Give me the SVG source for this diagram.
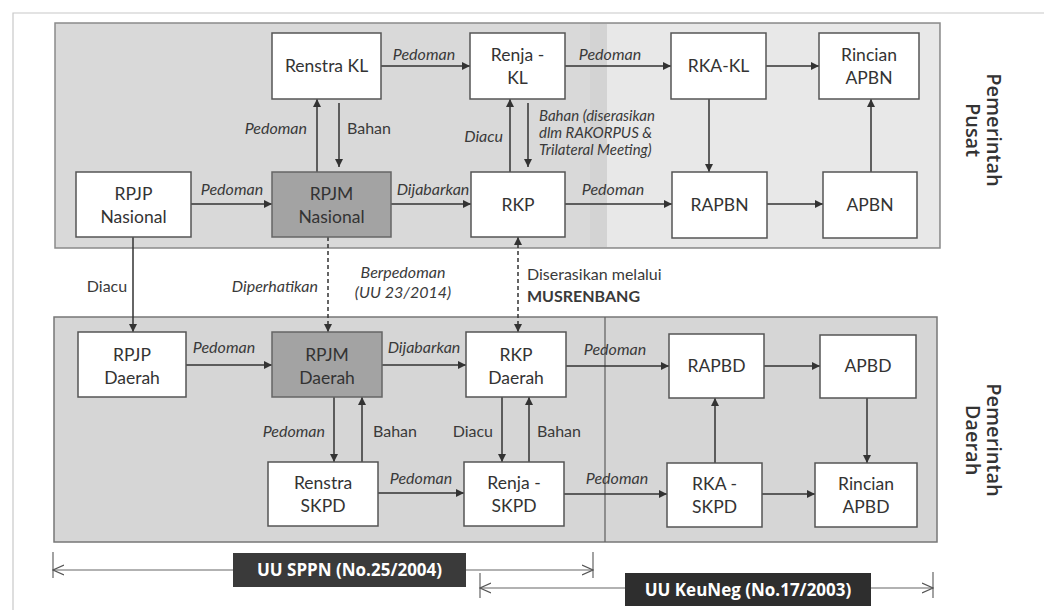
<svg xmlns="http://www.w3.org/2000/svg" width="1044" height="610" viewBox="0 0 1044 610">
<defs>
<marker id="ah" viewBox="0 0 10 10" refX="10" refY="5" markerWidth="9" markerHeight="8" markerUnits="userSpaceOnUse" orient="auto-start-reverse">
<path d="M0,0 L10,5 L0,10 z" fill="#333"/>
</marker>
<marker id="open" viewBox="0 0 12 12" refX="11" refY="6" markerWidth="12" markerHeight="12" markerUnits="userSpaceOnUse" orient="auto-start-reverse">
<path d="M0,1 L11,6 L0,11" fill="none" stroke="#555" stroke-width="1.2"/>
</marker>
<style>
.node rect{fill:#fff;stroke:#555;stroke-width:1.5}
.node.dark rect{fill:#a3a3a3;stroke:#666}
.nt{font-family:Lato,"Open Sans","Liberation Sans",sans-serif;font-size:17.5px;fill:#333;text-anchor:middle}
.lbl{font-family:Lato,"Open Sans","Liberation Sans",sans-serif;font-size:16px;fill:#3a3a3a}
.sm{font-size:15px}
.it{font-style:italic}
.c{stroke:#333;stroke-width:1.5;fill:none}
.d{stroke:#333;stroke-width:1.5;fill:none;stroke-dasharray:4 3}
.side{font-family:"Open Sans","Noto Sans",sans-serif;font-size:20px;font-weight:600;fill:#333;text-anchor:middle}
.leg{font-family:"Open Sans","Noto Sans",sans-serif;font-size:17px;font-weight:bold;fill:#fff;text-anchor:middle}
.ll{stroke:#666;stroke-width:1.2;fill:none}
</style>
</defs>
<rect width="1044" height="610" fill="#fff"/>
<path d="M13,610 V13 H1044" fill="none" stroke="#c8c8c8" stroke-width="1.2"/>

<g id="panel-pusat">
<rect x="55" y="23" width="885" height="225" fill="#d9d9d9" stroke="#8a8a8a" stroke-width="1.5"/>
<rect x="590" y="24" width="18" height="223" fill="#d3d3d3"/>
<rect x="607" y="24" width="332" height="223" fill="#e8e8e8"/>
</g>
<g id="panel-daerah">
<rect x="54" y="317" width="883" height="225" fill="#d6d6d6" stroke="#777" stroke-width="1.5"/>
<line x1="605" y1="317" x2="605" y2="542" stroke="#666" stroke-width="1.3"/>
</g>

<g id="connectors">
<path class="c" d="M381,66 H470" marker-end="url(#ah)"/>
<path class="c" d="M565,66 H671" marker-end="url(#ah)"/>
<path class="c" d="M766,66 H819" marker-end="url(#ah)"/>
<path class="c" d="M709,99 V172" marker-end="url(#ah)"/>
<path class="c" d="M871,172 V99" marker-end="url(#ah)"/>
<path class="c" d="M191,204 H272" marker-end="url(#ah)"/>
<path class="c" d="M391,204 H471" marker-end="url(#ah)"/>
<path class="c" d="M565,204 H672" marker-end="url(#ah)"/>
<path class="c" d="M767,204 H823" marker-end="url(#ah)"/>
<path class="c" d="M317,172 V99" marker-end="url(#ah)"/>
<path class="c" d="M339,103 V167" marker-end="url(#ah)"/>
<path class="c" d="M510,172 V99" marker-end="url(#ah)"/>
<path class="c" d="M528,103 V167" marker-end="url(#ah)"/>
<path class="c" d="M133,237 V332" marker-end="url(#ah)"/>
<path class="d" d="M328,237 V332" marker-end="url(#ah)"/>
<path class="d" d="M518,237 V332" marker-start="url(#ah)" marker-end="url(#ah)"/>
<path class="c" d="M186,365 H272" marker-end="url(#ah)"/>
<path class="c" d="M382,365 H466" marker-end="url(#ah)"/>
<path class="c" d="M566,366 H669" marker-end="url(#ah)"/>
<path class="c" d="M764,366 H820" marker-end="url(#ah)"/>
<path class="c" d="M867,398 V463" marker-end="url(#ah)"/>
<path class="c" d="M715,463 V398" marker-end="url(#ah)"/>
<path class="c" d="M334,397 V462" marker-end="url(#ah)"/>
<path class="c" d="M362,462 V397" marker-end="url(#ah)"/>
<path class="c" d="M502,397 V462" marker-end="url(#ah)"/>
<path class="c" d="M529,462 V397" marker-end="url(#ah)"/>
<path class="c" d="M378,493 H464" marker-end="url(#ah)"/>
<path class="c" d="M564,494 H667" marker-end="url(#ah)"/>
<path class="c" d="M762,494 H815" marker-end="url(#ah)"/>
</g>

<g id="edge-labels">
<text class="lbl it" x="424" y="60" text-anchor="middle">Pedoman</text>
<text class="lbl it" x="610" y="60" text-anchor="middle">Pedoman</text>
<text class="lbl it" x="232" y="195" text-anchor="middle">Pedoman</text>
<text class="lbl it" x="433" y="195" text-anchor="middle">Dijabarkan</text>
<text class="lbl it" x="613" y="195" text-anchor="middle">Pedoman</text>
<text class="lbl it" x="307" y="134" text-anchor="end">Pedoman</text>
<text class="lbl" x="347" y="134">Bahan</text>
<text class="lbl it" x="503" y="142" text-anchor="end">Diacu</text>
<text class="lbl sm it" x="539" y="121">Bahan (diserasikan</text>
<text class="lbl sm it" x="539" y="138">dlm RAKORPUS &amp;</text>
<text class="lbl sm it" x="539" y="155">Trilateral Meeting)</text>
<text class="lbl" x="107" y="292" text-anchor="middle">Diacu</text>
<text class="lbl it" x="318" y="292" text-anchor="end">Diperhatikan</text>
<text class="lbl it" x="403" y="278" text-anchor="middle">Berpedoman</text>
<text class="lbl it" x="403" y="298" text-anchor="middle">(UU 23/2014)</text>
<text class="lbl" x="527" y="280">Diserasikan melalui</text>
<text class="lbl" x="527" y="302" font-weight="bold">MUSRENBANG</text>
<text class="lbl it" x="224" y="353" text-anchor="middle">Pedoman</text>
<text class="lbl it" x="424" y="353" text-anchor="middle">Dijabarkan</text>
<text class="lbl it" x="615" y="355" text-anchor="middle">Pedoman</text>
<text class="lbl it" x="325" y="437" text-anchor="end">Pedoman</text>
<text class="lbl" x="373" y="437">Bahan</text>
<text class="lbl" x="493" y="437" text-anchor="end">Diacu</text>
<text class="lbl" x="537" y="437">Bahan</text>
<text class="lbl it" x="421" y="484" text-anchor="middle">Pedoman</text>
<text class="lbl it" x="617" y="484" text-anchor="middle">Pedoman</text>
</g>

<g id="renstra-kl" class="node"><rect x="272" y="33" width="109" height="66"/><text class="nt" x="326.5" y="72">Renstra KL</text></g>
<g id="renja-kl" class="node"><rect x="470" y="33" width="95" height="66"/><text class="nt" x="517.5" y="61">Renja -</text><text class="nt" x="517.5" y="84">KL</text></g>
<g id="rka-kl" class="node"><rect x="671" y="33" width="95" height="66"/><text class="nt" x="718.5" y="72">RKA-KL</text></g>
<g id="rincian-apbn" class="node"><rect x="819" y="33" width="100" height="66"/><text class="nt" x="869" y="61">Rincian</text><text class="nt" x="869" y="84">APBN</text></g>
<g id="rpjp-nasional" class="node"><rect x="76" y="172" width="115" height="65"/><text class="nt" x="133.5" y="200">RPJP</text><text class="nt" x="133.5" y="223">Nasional</text></g>
<g id="rpjm-nasional" class="node dark"><rect x="272" y="172" width="119" height="65"/><text class="nt" x="331.5" y="200">RPJM</text><text class="nt" x="331.5" y="223">Nasional</text></g>
<g id="rkp" class="node"><rect x="471" y="172" width="94" height="65"/><text class="nt" x="518" y="211">RKP</text></g>
<g id="rapbn" class="node"><rect x="672" y="172" width="95" height="66"/><text class="nt" x="719.5" y="211">RAPBN</text></g>
<g id="apbn" class="node"><rect x="823" y="172" width="94" height="66"/><text class="nt" x="870" y="211">APBN</text></g>

<g id="rpjp-daerah" class="node"><rect x="78" y="332" width="108" height="65"/><text class="nt" x="132" y="361">RPJP</text><text class="nt" x="132" y="384">Daerah</text></g>
<g id="rpjm-daerah" class="node dark"><rect x="272" y="332" width="110" height="65"/><text class="nt" x="327" y="361">RPJM</text><text class="nt" x="327" y="384">Daerah</text></g>
<g id="rkp-daerah" class="node"><rect x="466" y="332" width="100" height="65"/><text class="nt" x="516" y="361">RKP</text><text class="nt" x="516" y="384">Daerah</text></g>
<g id="rapbd" class="node"><rect x="669" y="334" width="95" height="64"/><text class="nt" x="716.5" y="372">RAPBD</text></g>
<g id="apbd" class="node"><rect x="820" y="335" width="96" height="63"/><text class="nt" x="868" y="372">APBD</text></g>
<g id="renstra-skpd" class="node"><rect x="268" y="462" width="110" height="64"/><text class="nt" x="323" y="489">Renstra</text><text class="nt" x="323" y="512">SKPD</text></g>
<g id="renja-skpd" class="node"><rect x="464" y="462" width="100" height="64"/><text class="nt" x="514" y="489">Renja -</text><text class="nt" x="514" y="512">SKPD</text></g>
<g id="rka-skpd" class="node"><rect x="667" y="463" width="95" height="64"/><text class="nt" x="714.5" y="490">RKA -</text><text class="nt" x="714.5" y="513">SKPD</text></g>
<g id="rincian-apbd" class="node"><rect x="815" y="463" width="102" height="64"/><text class="nt" x="866" y="490">Rincian</text><text class="nt" x="866" y="513">APBD</text></g>

<g id="label-pusat"><text class="side" transform="translate(983,130) rotate(90)"><tspan x="0" y="-4">Pemerintah</tspan><tspan x="0" y="17">Pusat</tspan></text></g>
<g id="label-daerah"><text class="side" transform="translate(983,440) rotate(90)"><tspan x="0" y="-4">Pemerintah</tspan><tspan x="0" y="17">Daerah</tspan></text></g>

<g id="legend-sppn">
<path class="ll" d="M53,552 V578 M593,552 V578"/>
<path class="ll" d="M53,570 H593" marker-start="url(#open)" marker-end="url(#open)"/>
<rect x="233" y="553" width="233" height="34" fill="#3a3a3a"/>
<text class="leg" x="349.5" y="576">UU SPPN (No.25/2004)</text>
</g>
<g id="legend-keuneg">
<path class="ll" d="M480,573 V598 M933,572 V598"/>
<path class="ll" d="M480,588 H933" marker-start="url(#open)" marker-end="url(#open)"/>
<rect x="625" y="573" width="246" height="33" fill="#2e2e2e"/>
<text class="leg" x="748" y="596">UU KeuNeg (No.17/2003)</text>
</g>
</svg>
